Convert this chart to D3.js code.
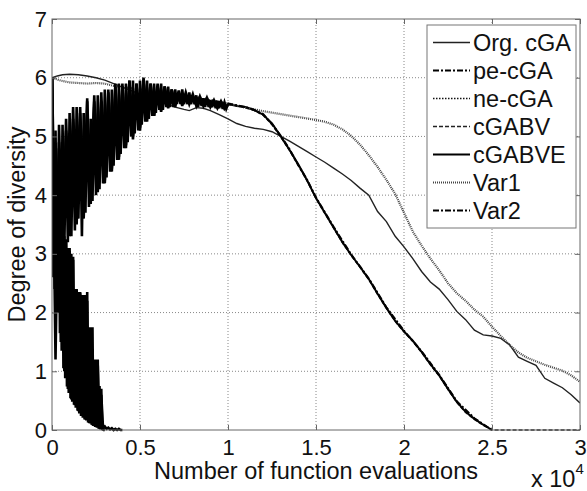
<!DOCTYPE html>
<html>
<head>
<meta charset="utf-8">
<script src="https://cdn.jsdelivr.net/npm/d3@7"></script>
<style>
  body { margin: 0; background: #fff; }
  text { font-family: "Liberation Sans", Arial, sans-serif; }
</style>
</head>
<body>
<svg id="chart"></svg>
<script>
// x values are in units of 10^4 function evaluations
const xTicks = [0, 0.5, 1, 1.5, 2, 2.5, 3];
const yTicks = [0, 1, 2, 3, 4, 5, 6, 7];
const seriesNames = ["Org. cGA", "pe-cGA", "ne-cGA", "cGABV", "cGABVE", "Var1", "Var2"];

// smooth runs
const orgCga = [[0,6.0],[0.03,6.03],[0.06,6.05],[0.1,6.06],[0.15,6.05],[0.2,6.03],[0.25,6.0],[0.3,5.96],[0.35,5.9],[0.4,5.84],
  [0.5,5.72],[0.6,5.6],[0.65,5.55],[0.7,5.5],[0.75,5.46],[0.78,5.44],[0.82,5.49],[0.86,5.48],[0.9,5.44],[0.95,5.37],[1.0,5.3],
  [1.05,5.22],[1.1,5.17],[1.15,5.14],[1.2,5.12],[1.25,5.08],[1.3,5.0],[1.35,4.92],[1.4,4.83],[1.45,4.74],[1.5,4.65],[1.55,4.56],
  [1.6,4.46],[1.65,4.36],[1.7,4.25],[1.75,4.12],[1.8,4.0],[1.85,3.72],[1.9,3.55],[1.95,3.3],[2.0,3.12],[2.05,2.92],[2.1,2.7],
  [2.15,2.52],[2.2,2.4],[2.25,2.22],[2.3,2.02],[2.35,1.88],[2.4,1.7],[2.45,1.62],[2.5,1.6],[2.55,1.56],[2.6,1.45],[2.65,1.24],
  [2.7,1.17],[2.75,1.1],[2.8,0.88],[2.85,0.8],[2.9,0.72],[2.95,0.6],[3.0,0.46]];

const var1 = [[0,6.0],[0.05,5.95],[0.1,5.92],[0.15,5.91],[0.2,5.9],[0.25,5.91],[0.3,5.9],[0.35,5.86],[0.4,5.84],[0.5,5.8],
  [0.6,5.75],[0.7,5.7],[0.8,5.65],[0.9,5.6],[1.0,5.56],[1.1,5.49],[1.2,5.43],[1.3,5.38],[1.4,5.33],[1.5,5.28],[1.55,5.25],
  [1.6,5.2],[1.65,5.12],[1.7,5.01],[1.75,4.86],[1.8,4.68],[1.85,4.48],[1.9,4.26],[1.95,4.02],[2.0,3.7],[2.05,3.38],[2.1,3.14],
  [2.15,2.92],[2.2,2.72],[2.25,2.5],[2.3,2.33],[2.35,2.2],[2.4,2.05],[2.45,1.93],[2.5,1.76],[2.55,1.6],[2.6,1.45],[2.65,1.32],
  [2.7,1.23],[2.75,1.17],[2.8,1.11],[2.85,1.06],[2.9,1.01],[2.95,0.93],[3.0,0.82]];

// oscillating runs, sampled every `step` from x = 0
const peCgaStep = 0.005;
const peCgaY = [6.0,2.6,4.9,2.4,4.4,2.2,4.1,2.0,3.9,1.65,3.7,1.35,3.5,1.05,3.3,0.88,3.2,0.74,3.1,0.63,3.05,0.54,3.0,0.48,2.95,
  0.43,2.4,0.38,2.4,0.33,2.35,0.28,2.35,0.24,2.3,0.21,2.3,0.18,2.3,0.16,2.35,0.13,1.75,0.11,1.75,0.09,1.75,0.07,1.2,0.05,1.2,
  0.04,1.2,0.02,0.75,0.01,0.7,0.0,0.05,0.0,0.0];

const neCgaStep = 0.01;
const neCgaY = [6.0,2.8,4.6,2.1,4.0,1.5,3.6,1.0,3.25,0.7,3.1,0.52,2.9,0.42,2.38,0.32,2.33,0.24,2.3,0.18,2.2,0.12,1.7,0.08,1.15,
  0.05,1.1,0.02,0.6,0.03,0.06,0.02,0.04,0.01,0.03,0.0,0.02,0.0,0.02,0.0,0.0];

const cgabvStep = 0.02;
const cgabvHeadY = [6.0,3.0,4.8,3.1,5.1,3.3,5.3,3.9,5.5,3.6,5.4,3.85,5.7,4.05,5.6,4.2,5.75,4.4,5.9,4.65,5.85,4.8,5.95,5.0,5.85,
  5.1,5.95,5.25,5.9,5.35,5.9,5.42,5.85,5.48,5.8,5.5,5.78,5.52,5.75,5.55,5.72,5.52,5.68,5.52,5.66,5.5,5.62,5.48,5.6,5.47,5.54];
const cgabvTail = [[1.04,5.53],[1.1,5.49],[1.15,5.44],[1.2,5.36],[1.25,5.2],[1.3,4.99],[1.35,4.76],[1.4,4.5],[1.45,4.24],
  [1.5,3.94],[1.55,3.69],[1.6,3.44],[1.65,3.19],[1.7,2.97],[1.75,2.77],[1.8,2.56],[1.85,2.31],[1.9,2.07],[1.95,1.85],[2.0,1.67],
  [2.05,1.51],[2.1,1.32],[2.15,1.11],[2.2,0.92],[2.25,0.69],[2.3,0.47],[2.35,0.3],[2.4,0.18],[2.45,0.08],[2.5,0.0],[2.75,0.0],[3.0,0.0]];

const cgabveStep = 0.01;
const cgabveHeadY = [6.0,2.9,5.1,2.7,4.9,3.0,5.2,3.1,5.0,3.2,5.4,3.3,5.1,3.4,5.5,3.6,5.2,3.3,5.4,3.7,5.6,3.8,5.3,3.9,5.5,4.0,
  5.7,4.1,5.5,4.2,5.8,4.3,5.6,4.4,5.8,4.5,5.7,4.6,5.9,4.7,5.8,4.8,5.9,4.9,5.85,5.0,5.95,5.05,5.9,5.1,5.95,5.2,5.9,5.25,5.95,
  5.3,5.85,5.35,5.9,5.4,5.85,5.45,5.9,5.45,5.8,5.5,5.85,5.5,5.75,5.5,5.8,5.55,5.75,5.55,5.8,5.55,5.7,5.55,5.75,5.55,5.7,5.55,
  5.7,5.5,5.68,5.52,5.65,5.5,5.66,5.5,5.62,5.5,5.62,5.48,5.6,5.48,5.6,5.47,5.58,5.47,5.55];
const cgabveTail = [[1.05,5.52],[1.1,5.5],[1.15,5.45],[1.2,5.37],[1.25,5.22],[1.3,5.0],[1.35,4.77],[1.4,4.52],[1.45,4.25],
  [1.5,3.95],[1.55,3.7],[1.6,3.45],[1.65,3.2],[1.7,2.98],[1.75,2.78],[1.8,2.57],[1.85,2.32],[1.9,2.08],[1.95,1.86],[2.0,1.68],
  [2.05,1.52],[2.1,1.33],[2.15,1.12],[2.2,0.93],[2.25,0.7],[2.3,0.48],[2.35,0.31],[2.4,0.19],[2.45,0.09],[2.5,0.0]];

const var2Step = 0.02;
const var2HeadY = [6.0,1.2,5.2,2.8,5.3,3.4,5.5,3.5,5.4,3.8,5.65,3.9,5.6,4.1,5.75,4.25,5.8,4.45,5.85,4.6,5.9,4.85,5.95,4.95,
  5.9,5.15,6.0,5.3,5.9,5.35,5.85,5.45,5.85,5.5,5.8,5.55];
const var2Tail = [[0.72,5.72],[0.8,5.66],[0.9,5.62],[1.0,5.56],[1.1,5.5],[1.15,5.45],[1.2,5.38],[1.25,5.21],[1.3,5.01],
  [1.35,4.78],[1.4,4.51],[1.45,4.26],[1.5,3.96],[1.6,3.46],[1.7,2.99],[1.8,2.58],[1.9,2.09],[2.0,1.69],[2.1,1.34],[2.2,0.94],
  [2.3,0.49],[2.4,0.2],[2.5,0.0]];

// line looks, matched by index to seriesNames
const lineStyles = [
  { color: "#222", width: 1.4, dash: null },
  { color: "#000", width: 1.8, dash: "6,2,2,2" },
  { color: "#111", width: 1.5, dash: "1.5,1.5" },
  { color: "#222", width: 1.5, dash: "4,2" },
  { color: "#000", width: 2, dash: null },
  { color: "#444", width: 2.2, dash: "1,1" },
  { color: "#000", width: 2, dash: "6,2,2,2" }
];

(() => {
  const width = 587, height = 491;
  const svg = d3.select("#chart").attr("width", width).attr("height", height);

  const x = d3.scaleLinear().domain([0, 3]).range([52, 580]);
  const y = d3.scaleLinear().domain([0, 7]).range([430, 19]);

  const sampled = (step, ys) => ys.map((v, i) => [i * step, v]);
  // each series: oscillating head (dense, reads as a solid band) + smooth tail
  const seriesData = [
    { head: [], tail: orgCga },
    { head: sampled(peCgaStep, peCgaY), tail: [] },
    { head: sampled(neCgaStep, neCgaY), tail: [] },
    { head: sampled(cgabvStep, cgabvHeadY), tail: cgabvTail },
    { head: sampled(cgabveStep, cgabveHeadY), tail: cgabveTail },
    { head: [], tail: var1 },
    { head: sampled(var2Step, var2HeadY), tail: var2Tail }
  ];

  // grid
  const grid = svg.append("g").attr("stroke", "#888").attr("stroke-width", 1).attr("stroke-dasharray", "1,2");
  grid.selectAll(".gx").data(xTicks.slice(1, -1)).enter().append("line")
    .attr("x1", d => x(d)).attr("x2", d => x(d)).attr("y1", y(7)).attr("y2", y(0));
  grid.selectAll(".gy").data(yTicks.slice(1, -1)).enter().append("line")
    .attr("x1", x(0)).attr("x2", x(3)).attr("y1", d => y(d)).attr("y2", d => y(d));

  // lines
  svg.append("clipPath").attr("id", "plotclip").append("rect")
    .attr("x", x(0)).attr("y", y(7)).attr("width", x(3) - x(0)).attr("height", y(0) - y(7) + 2);
  const line = d3.line().x(d => x(d[0])).y(d => y(d[1]));
  const plot = svg.append("g").attr("clip-path", "url(#plotclip)");

  // tails with their own dash styles
  plot.selectAll(".tail").data(seriesData).enter().append("path")
    .attr("class", "tail")
    .attr("d", d => {
      const pts = d.head.length ? [d.head[d.head.length - 1]].concat(d.tail) : d.tail;
      return pts.length > 1 ? line(pts) : null;
    })
    .attr("fill", "none")
    .attr("stroke", (d, i) => lineStyles[i].color)
    .attr("stroke-width", (d, i) => lineStyles[i].width)
    .attr("stroke-dasharray", (d, i) => lineStyles[i].dash);

  // oscillating heads: dense, so they print as solid black bands
  plot.selectAll(".head").data(seriesData.filter(d => d.head.length)).enter().append("path")
    .attr("class", "head")
    .attr("d", d => line(d.head))
    .attr("fill", "none")
    .attr("stroke", "#000")
    .attr("stroke-width", 2.6);

  // axes box with inward ticks
  const tickFs = 22, labelFs = 23.5;
  svg.append("g").attr("transform", `translate(0,${y(0)})`)
    .call(d3.axisBottom(x).tickValues(xTicks).tickFormat(d3.format("~g")).tickSize(-5).tickPadding(9));
  svg.append("g").attr("transform", `translate(${x(0)},0)`)
    .call(d3.axisLeft(y).tickValues(yTicks).tickFormat(d3.format("d")).tickSize(-5).tickPadding(5));
  svg.append("g").attr("transform", `translate(0,${y(7)})`)
    .call(d3.axisTop(x).tickValues(xTicks).tickFormat("").tickSize(-5));
  svg.append("g").attr("transform", `translate(${x(3)},0)`)
    .call(d3.axisRight(y).tickValues(yTicks).tickFormat("").tickSize(-5));
  svg.selectAll(".domain").remove();
  svg.selectAll(".tick line").attr("stroke", "#666");
  svg.selectAll(".tick text").attr("font-size", tickFs).attr("fill", "#111")
    .attr("font-family", "Liberation Sans, Arial, sans-serif");
  svg.append("rect").attr("x", x(0)).attr("y", y(7)).attr("width", x(3) - x(0)).attr("height", y(0) - y(7))
    .attr("fill", "none").attr("stroke", "#666").attr("stroke-width", 1);

  // axis titles
  svg.append("text").attr("x", (x(0) + x(3)) / 2).attr("y", 479).attr("text-anchor", "middle")
    .attr("font-size", labelFs).attr("fill", "#111").text("Number of function evaluations");
  svg.append("text").attr("transform", `translate(25,${(y(0) + y(7)) / 2}) rotate(-90)`)
    .attr("text-anchor", "middle").attr("font-size", labelFs).attr("fill", "#111").text("Degree of diversity");
  const mult = svg.append("text").attr("x", 531).attr("y", 487).attr("font-size", labelFs).attr("fill", "#111");
  mult.append("tspan").text("x 10");
  mult.append("tspan").attr("dy", -13).attr("font-size", 15).text("4");

  // legend
  const legend = svg.append("g");
  legend.append("rect").attr("x", 427).attr("y", 25).attr("width", 149).attr("height", 203)
    .attr("fill", "#fff").attr("stroke", "#777").attr("stroke-width", 1);
  const rows = legend.selectAll(".row").data(seriesNames).enter().append("g")
    .attr("transform", (d, i) => `translate(0,${42.5 + i * 28})`);
  rows.append("line").attr("x1", 433).attr("x2", 470).attr("y1", 0).attr("y2", 0)
    .attr("stroke", (d, i) => lineStyles[i].color)
    .attr("stroke-width", (d, i) => lineStyles[i].width)
    .attr("stroke-dasharray", (d, i) => lineStyles[i].dash);
  rows.append("text").attr("x", 473).attr("y", 0).attr("dy", "0.35em")
    .attr("font-size", labelFs).attr("fill", "#111").text(d => d);
})();
</script>
</body>
</html>
